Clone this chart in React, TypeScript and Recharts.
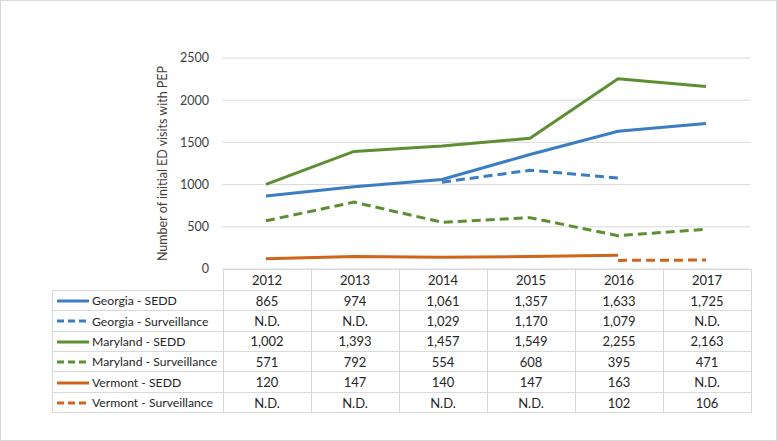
import React from "react";
import { LineChart, Line, XAxis, YAxis, CartesianGrid } from "recharts";

const years = ["2012", "2013", "2014", "2015", "2016", "2017"];
const georgiaSedd = [865, 974, 1061, 1357, 1633, 1725];
const georgiaSurv = [null, null, 1029, 1170, 1079, null];
const marylandSedd = [1002, 1393, 1457, 1549, 2255, 2163];
const marylandSurv = [571, 792, 554, 608, 395, 471];
const vermontSedd = [120, 147, 140, 147, 163, null];
const vermontSurv = [null, null, null, null, 102, 106];
const yTicks = [0, 500, 1000, 1500, 2000, 2500];

const BLUE = "#3b7dc3";
const GREEN = "#5b8f31";
const ORANGE = "#d0641a";

const series = [
  { key: "gaSedd", name: "Georgia - SEDD", values: georgiaSedd, color: BLUE, dashed: false },
  { key: "gaSurv", name: "Georgia - Surveillance", values: georgiaSurv, color: BLUE, dashed: true },
  { key: "mdSedd", name: "Maryland - SEDD", values: marylandSedd, color: GREEN, dashed: false },
  { key: "mdSurv", name: "Maryland - Surveillance", values: marylandSurv, color: GREEN, dashed: true },
  { key: "vtSedd", name: "Vermont - SEDD", values: vermontSedd, color: ORANGE, dashed: false },
  { key: "vtSurv", name: "Vermont - Surveillance", values: vermontSurv, color: ORANGE, dashed: true },
];

const chartData = years.map((year, i) => {
  const row: Record<string, any> = { year };
  series.forEach((s) => {
    row[s.key] = s.values[i];
  });
  return row;
});

const FONT = "Lato, 'Liberation Sans', sans-serif";
const GRID = "#d9d9d9";
const DASH = "9 5";
const ROW_H = 20.4;
const COL_W = 88;

const fmt = (v: number | null) => (v == null ? "N.D." : v.toLocaleString("en-US"));

export default function App() {
  const cell: React.CSSProperties = {
    border: `1px solid ${GRID}`,
    width: COL_W,
    height: ROW_H,
    padding: 0,
    textAlign: "center",
    boxSizing: "border-box",
    lineHeight: "18px",
  };

  return (
    <div
      style={{
        position: "absolute",
        left: 0,
        top: 0,
        width: 777,
        height: 441,
        boxSizing: "border-box",
        border: `1px solid ${GRID}`,
        background: "#fff",
        fontFamily: FONT,
        overflow: "hidden",
      }}
    >
      <div style={{ position: "absolute", left: -1, top: -1 }}>
        <LineChart
          width={777}
          height={300}
          data={chartData}
          margin={{ top: 58, right: 27, left: 152, bottom: 31 }}
        >
          <CartesianGrid vertical={false} stroke={GRID} />
          <XAxis dataKey="year" hide padding={{ left: 44, right: 44 }} />
          <YAxis
            width={70}
            domain={[0, 2500]}
            ticks={yTicks}
            axisLine={false}
            tickLine={false}
            tickMargin={7}
            tick={{ fontSize: 12.5, fill: "#404040", fontFamily: FONT }}
            label={{
              value: "Number of initial ED visits with PEP",
              angle: -90,
              position: "center",
              dx: -24,
              style: { fontSize: 12.5, fill: "#404040", fontFamily: FONT },
            }}
          />
          {series.map((s) => (
            <Line
              key={s.key}
              dataKey={s.key}
              name={s.name}
              stroke={s.color}
              strokeWidth={3}
              strokeDasharray={s.dashed ? DASH : undefined}
              dot={false}
              activeDot={false}
              isAnimationActive={false}
            />
          ))}
        </LineChart>
      </div>

      <table
        style={{
          position: "absolute",
          left: 51,
          top: 268,
          borderCollapse: "collapse",
          fontSize: 13,
          color: "#262626",
          fontFamily: FONT,
          tableLayout: "fixed",
        }}
      >
        <tbody>
          <tr>
            <td style={{ width: 170, height: ROW_H, padding: 0 }} />
            {years.map((y) => (
              <td key={y} style={cell}>
                {y}
              </td>
            ))}
          </tr>
          {series.map((s) => (
            <tr key={s.key}>
              <td
                style={{
                  ...cell,
                  width: 170,
                  textAlign: "left",
                  paddingLeft: 4,
                  whiteSpace: "nowrap",
                  fontSize: 12.2,
                }}
              >
                <svg width={32} height={10} style={{ verticalAlign: "middle", marginRight: 3 }}>
                  <line
                    x1={0}
                    y1={5}
                    x2={32}
                    y2={5}
                    stroke={s.color}
                    strokeWidth={3}
                    strokeDasharray={s.dashed ? "7 4" : undefined}
                  />
                </svg>
                <span style={{ verticalAlign: "middle" }}>{s.name}</span>
              </td>
              {s.values.map((v, i) => (
                <td key={i} style={cell}>
                  {fmt(v)}
                </td>
              ))}
            </tr>
          ))}
        </tbody>
      </table>
    </div>
  );
}
